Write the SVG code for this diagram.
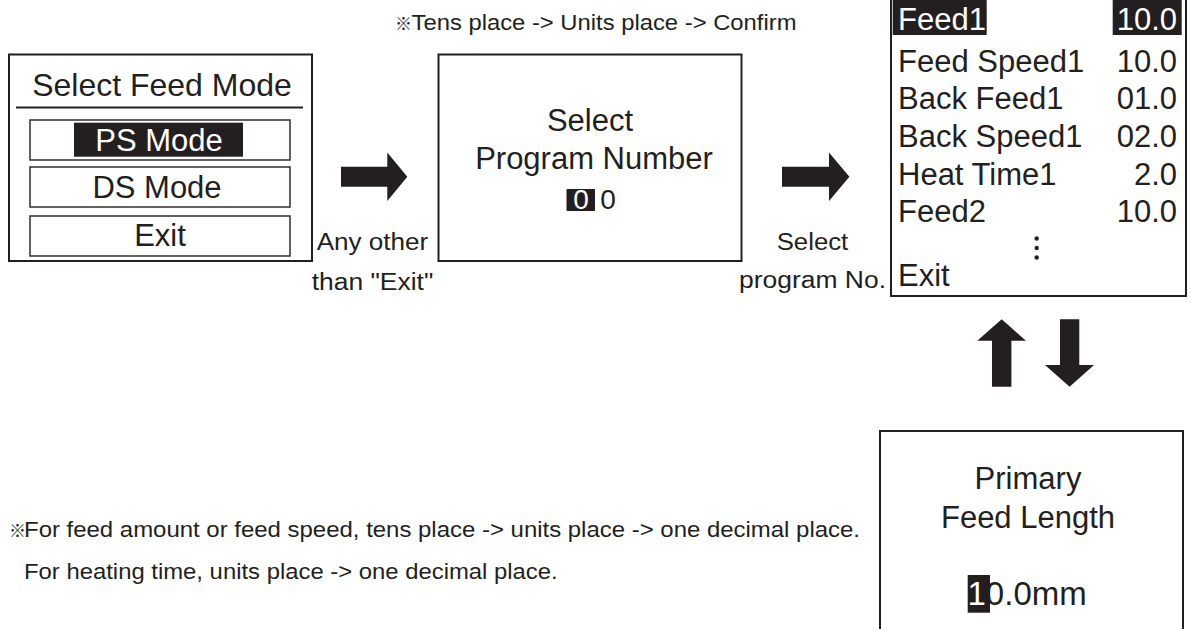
<svg xmlns="http://www.w3.org/2000/svg" width="1191" height="629" viewBox="0 0 1191 629">
<defs>
<style>
text{font-family:"Liberation Sans",Arial,Helvetica,"Noto Sans CJK JP",sans-serif;fill:#231f20}
.big{font-size:31px}
.mid{font-size:23px}
.sm{font-size:22px}
.c{text-anchor:middle}
.r{text-anchor:end}
.w{fill:#fff}
.box{fill:#fff;stroke:#231f20;stroke-width:2}
.ibox{fill:none;stroke:#231f20;stroke-width:1.4}
.hl{fill:#231f20}
.ar{fill:#231f20}
.kome{font-size:17px;font-family:"Noto Sans CJK JP",sans-serif}
</style>
</defs>
<rect width="1191" height="629" fill="#fff"/>

<g id="note-top">
<text x="395" y="30"><tspan class="kome">※</tspan></text>
<text x="411.5" y="30" class="sm" textLength="385" lengthAdjust="spacingAndGlyphs">Tens place -&gt; Units place -&gt; Confirm</text>
</g>

<g id="select-feed-mode">
<rect class="box" x="9" y="54.5" width="303" height="206.5"/>
<text x="162" y="96" class="c" style="font-size:32px">Select Feed Mode</text>
<line x1="16" y1="107.5" x2="303" y2="107.5" stroke="#231f20" stroke-width="2"/>
<rect class="ibox" x="30" y="120" width="260" height="40"/>
<rect class="hl" x="74" y="122.7" width="169" height="34"/>
<text x="159" y="150.5" class="big c w">PS Mode</text>
<rect class="ibox" x="30" y="167" width="260" height="40"/>
<text x="157" y="197.5" class="big c">DS Mode</text>
<rect class="ibox" x="30" y="216" width="260" height="40"/>
<text x="160" y="245.5" class="big c">Exit</text>
</g>

<g id="select-program-number">
<rect class="box" x="438.5" y="54.5" width="303" height="206.5"/>
<text x="590" y="130.5" class="big c">Select</text>
<text x="594" y="168.5" class="big c">Program Number</text>
<rect class="hl" x="566.5" y="189" width="28.5" height="22"/>
<text x="581" y="209" class="c w" style="font-size:28px">0</text>
<text x="608" y="209" class="c" style="font-size:28px">0</text>
</g>

<g id="program-list">
<rect class="box" x="891" y="-10" width="295" height="306"/>
<rect class="hl" x="892.7" y="-5" width="94" height="40"/>
<rect class="hl" x="1112.7" y="-5" width="69" height="40"/>
<text x="898" y="29.5" class="big w">Feed1</text>
<text x="1177" y="29.5" class="big r w">10.0</text>
<text x="898" y="72" class="big">Feed Speed1</text>
<text x="1177" y="72" class="big r">10.0</text>
<text x="898" y="109" class="big">Back Feed1</text>
<text x="1177" y="109" class="big r">01.0</text>
<text x="898" y="147" class="big">Back Speed1</text>
<text x="1177" y="147" class="big r">02.0</text>
<text x="898" y="185" class="big">Heat Time1</text>
<text x="1177" y="185" class="big r">2.0</text>
<text x="898" y="222" class="big">Feed2</text>
<text x="1177" y="222" class="big r">10.0</text>
<circle cx="1036.7" cy="238.5" r="2.2" fill="#231f20"/>
<circle cx="1036.7" cy="248" r="2.2" fill="#231f20"/>
<circle cx="1036.7" cy="257.5" r="2.2" fill="#231f20"/>
<text x="898" y="285.5" class="big">Exit</text>
</g>

<g id="primary-feed-length">
<rect class="box" x="880" y="431" width="303" height="220"/>
<text x="1028" y="489" class="big c">Primary</text>
<text x="1028" y="528" class="big c">Feed Length</text>
<rect class="hl" x="967.7" y="575" width="22.3" height="37.7"/>
<text x="967.5" y="605" style="font-size:33px"><tspan class="w">1</tspan>0.0mm</text>
</g>

<g id="connectors">
<polygon class="ar" points="341,166.7 387.3,166.7 387.3,152.5 407.3,176.7 387.3,201 387.3,186.7 341,186.7"/>
<polygon class="ar" points="782,166.7 829,166.7 829,152.5 849.4,176.7 829,201 829,186.7 782,186.7"/>
<polygon class="ar" points="1001.7,319.3 1026,340.7 1011.4,340.7 1011.4,386.7 992,386.7 992,340.7 977.3,340.7"/>
<polygon class="ar" points="1060,319.3 1079.3,319.3 1079.3,365 1094,365 1069.6,386.7 1045,365 1060,365"/>
</g>

<g id="labels">
<text x="372.5" y="250" class="mid c" textLength="111.6" lengthAdjust="spacingAndGlyphs">Any other</text>
<text x="372.5" y="290" class="mid c" textLength="121.6" lengthAdjust="spacingAndGlyphs">than "Exit"</text>
<text x="812.5" y="250" class="mid c" textLength="71.6" lengthAdjust="spacingAndGlyphs">Select</text>
<text x="812.5" y="288" class="mid c" textLength="147" lengthAdjust="spacingAndGlyphs">program No.</text>
</g>

<g id="note-bottom">
<text x="9" y="537"><tspan class="kome">※</tspan></text>
<text x="24" y="537" class="sm" textLength="836" lengthAdjust="spacingAndGlyphs">For feed amount or feed speed, tens place -&gt; units place -&gt; one decimal place.</text>
<text x="24" y="579" class="sm" textLength="533.7" lengthAdjust="spacingAndGlyphs">For heating time, units place -&gt; one decimal place.</text>
</g>
</svg>
